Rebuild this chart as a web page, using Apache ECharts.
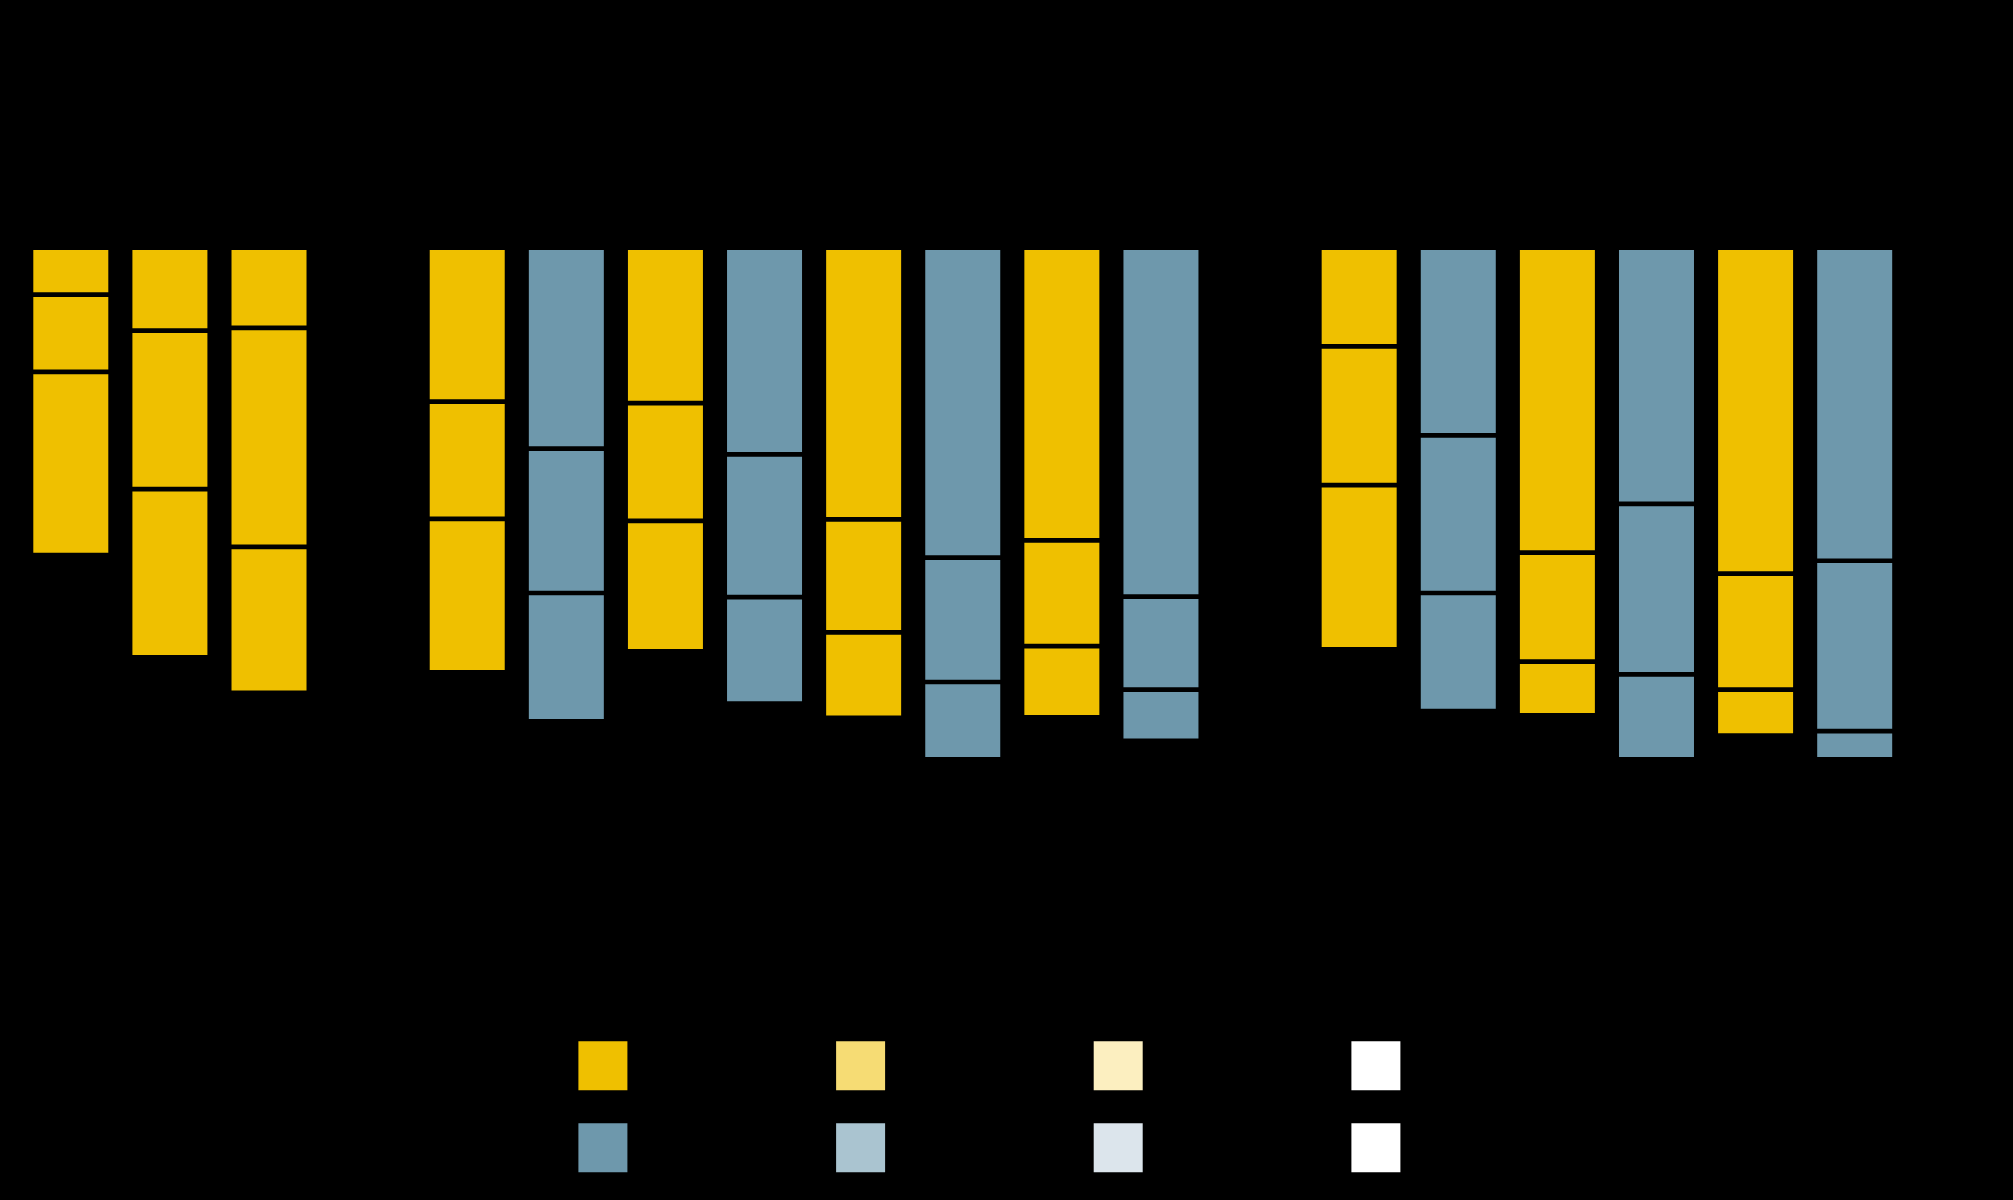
<!DOCTYPE html>
<html>
<head>
<meta charset="utf-8">
<script src="https://cdn.jsdelivr.net/npm/echarts@6/dist/echarts.min.js"></script>
<style>html,body{margin:0;padding:0;background:#000;}#c{width:2013px;height:1200px;}</style>
</head>
<body>
<div id="c"></div>
<script>
// Categories (gaps between groups are empty slots)
const categories = ['A1','A2','A3','','B1','B2','B3','B4','B5','B6','B7','B8','','C1','C2','C3','C4','C5','C6'];
// Which colour family each bar uses: Y = yellow, B = blue, '' = empty slot
const barGroup = ['Y','Y','Y','','Y','B','Y','B','Y','B','Y','B','','Y','B','Y','B','Y','B'];
// Stacked segment values (top, middle, bottom), in percent
const segTop    = [9.2, 16.2, 15.7, null, 30.1, 39.3, 30.4, 40.4, 53.1, 60.6, 57.2, 68.2, null, 19.3, 36.7, 59.6, 50.1, 63.7, 61.2];
const segMiddle = [15.1, 31.0, 42.8, null, 22.9, 28.2, 23.0, 27.9, 22.1, 24.3, 20.7, 18.2, null, 27.1, 30.8, 21.3, 33.3, 22.7, 33.3];
const segBottom = [35.8, 32.9, 28.5, null, 30.0, 25.1, 25.5, 20.8, 16.7, 15.1, 13.9, 10.0, null, 32.1, 23.1, 10.5, 16.6, 9.0, 5.5];
// Legend entries
const legendYellow = ['Yellow 1', 'Yellow 2', 'Yellow 3', 'Yellow 4'];
const legendBlue = ['Blue 1', 'Blue 2', 'Blue 3', 'Blue 4'];
const yellowShades = ['#EFC000', '#F6DC74', '#FCEFC0', '#FFFFFF'];
const blueShades = ['#6E98AC', '#AAC4D0', '#DCE5EC', '#FFFFFF'];

const segs = [segTop, segMiddle, segBottom];
function pick(arr, grp) { return arr.map((v, i) => barGroup[i] === grp ? v : null); }

const BW = 79.7;
const series = [];
for (let k = 0; k < 3; k++) {
  series.push({ name: legendYellow[k], type: 'bar', stack: 'total', barWidth: BW,
    itemStyle: { color: yellowShades[0], borderColor: '#000', borderWidth: 2.35 },
    data: pick(segs[k], 'Y') });
  series.push({ name: legendBlue[k], type: 'bar', stack: 'total', barWidth: BW,
    itemStyle: { color: blueShades[0], borderColor: '#000', borderWidth: 2.35 },
    data: pick(segs[k], 'B') });
}
series.push({ name: legendYellow[3], type: 'bar', stack: 'total', barWidth: BW, itemStyle: { color: '#FFFFFF' }, data: [] });
series.push({ name: legendBlue[3], type: 'bar', stack: 'total', barWidth: BW, itemStyle: { color: '#FFFFFF' }, data: [] });

const legendLefts = [578.4, 836.1, 1093.7, 1351.4];
const legendTops = [1041.3, 1123.3];
const legends = [];
[[legendYellow, yellowShades], [legendBlue, blueShades]].forEach((pair, r) => {
  pair[0].forEach((nm, c) => {
    legends.push({
      left: legendLefts[c], top: legendTops[r], padding: 0,
      icon: 'rect', itemWidth: 49, itemHeight: 49, selectedMode: false,
      itemStyle: { borderWidth: 0 },
      textStyle: { color: '#000', fontSize: 22, fontFamily: 'Liberation Sans' },
      data: [{ name: nm, itemStyle: { color: pair[1][c], borderWidth: 0 } }]
    });
  });
});

const chart = echarts.init(document.getElementById('c'), null, { renderer: 'canvas' });
chart.setOption({
  backgroundColor: '#000000',
  animation: false,
  legend: legends,
  grid: { left: 21.25, top: 247.65, width: 1883, bottom: 440.75, containLabel: false },
  xAxis: {
    type: 'category', data: categories,
    axisLine: { show: false }, axisTick: { show: false },
    axisLabel: { color: '#000' }
  },
  yAxis: {
    type: 'value', inverse: true, min: 0, max: 100, interval: 20,
    axisLine: { show: false }, axisTick: { show: false },
    axisLabel: { show: false }, splitLine: { show: false }
  },
  series: series
});
</script>
</body>
</html>
